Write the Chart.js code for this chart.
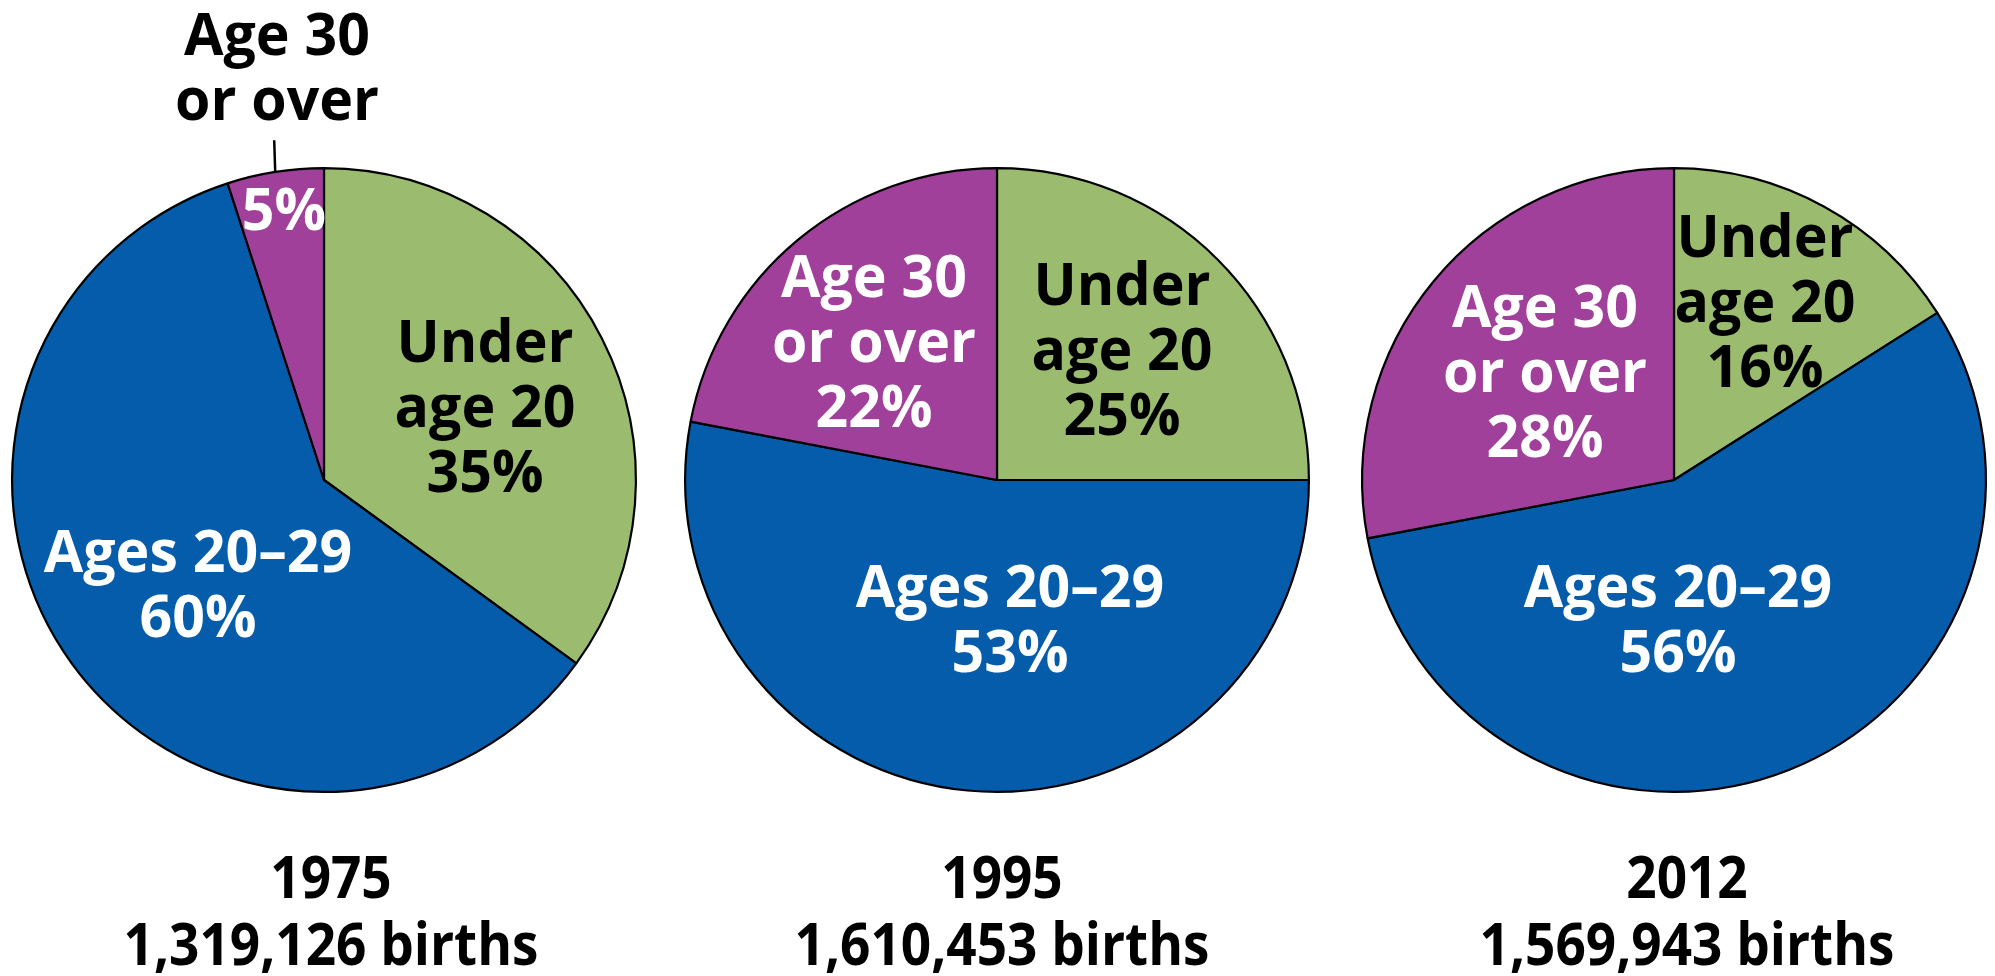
<!DOCTYPE html>
<html>
<head>
<meta charset="utf-8">
<script src="https://cdn.jsdelivr.net/npm/chart.js@4.4.0/dist/chart.umd.min.js"></script>
<style>
  html, body { margin: 0; padding: 0; background: #fff; }
  #wrap { position: relative; width: 1995px; height: 976px; }
  #wrap canvas { position: absolute; left: 0; top: 0; }
</style>
</head>
<body>
<div id="wrap">
  <canvas id="pie-0" width="1995" height="976"></canvas>
  <canvas id="pie-1" width="1995" height="976"></canvas>
  <canvas id="pie-2" width="1995" height="976"></canvas>
</div>
<script>
// Data
const categories = ['Under age 20', 'Ages 20–29', 'Age 30 or over'];
const categoryLines = [['Under', 'age 20'], ['Ages 20–29'], ['Age 30', 'or over']];
const years = ['1975', '1995', '2012'];
const births = ['1,319,126', '1,610,453', '1,569,943'];
const shares1975 = [35, 60, 5];
const shares1995 = [25, 53, 22];
const shares2012 = [16, 56, 28];

// Styles / layout
const colors = ['#9bbb6e', '#045caa', '#a0409a'];
const textColors = ['#000', '#fff', '#fff'];
const W = 1995, H = 976;
const RADIUS = 312, CENTER_Y = 480;
const centersX = [324, 997, 1674];
const LABEL_FONT = '700 59px "Open Sans"';
const LABEL_SQUEEZE = 0.97;
const CAPTION_FONT = '700 59px "Open Sans"';
const CAPTION_SQUEEZE = 0.9; // captions are set in a narrower bold face
const LINE = 65;
// label anchors relative to pie centre: [dx, baseline of first line]
const labelOffsets = [
    [[161, -118], [-126, 92], [-47, -425]],
    [[125, -175], [13, 127], [-123, -183]],
    [[91, -223], [4, 127], [-129, -153]]
];
const captionDx = [7, 5, 13];

function drawText(ctx, text, x, y, sx) {
    ctx.save();
    ctx.translate(x, y);
    ctx.scale(sx, 1);
    ctx.fillText(text, 0, 0);
    ctx.restore();
}

const pieLabels = {
    id: 'pieLabels',
    afterDatasetsDraw(chart, args, opts) {
        const ctx = chart.ctx;
        const arcs = chart.getDatasetMeta(0).data;
        const values = chart.data.datasets[0].data;
        const cx = arcs[0].x, cy = arcs[0].y;
        ctx.save();
        ctx.font = LABEL_FONT;
        ctx.textAlign = 'center';
        ctx.textBaseline = 'alphabetic';

        values.forEach((v, i) => {
            const [dx, dy] = opts.offsets[i];
            const pct = v + '%';
            if (opts.outside && opts.outside.index === i) {
                // name outside the pie, percent inside, with a leader line
                ctx.fillStyle = '#000';
                categoryLines[i].forEach((t, k) => drawText(ctx, t, cx + dx, cy + dy + k * LINE, LABEL_SQUEEZE));
                ctx.fillStyle = textColors[i];
                drawText(ctx, pct, cx + opts.outside.pct[0], cy + opts.outside.pct[1], LABEL_SQUEEZE);
                const arc = arcs[i];
                const a = (arc.startAngle + arc.endAngle) / 2;
                const r = arc.outerRadius;
                ctx.strokeStyle = '#000';
                ctx.lineWidth = 2.5;
                ctx.beginPath();
                ctx.moveTo(cx + r * Math.cos(a), cy + r * Math.sin(a));
                ctx.lineTo(cx + (r + 32) * Math.cos(a) + 4, cy + (r + 32) * Math.sin(a));
                ctx.stroke();
            } else {
                ctx.fillStyle = textColors[i];
                categoryLines[i].concat([pct]).forEach((t, k) =>
                    drawText(ctx, t, cx + dx, cy + dy + k * LINE, LABEL_SQUEEZE));
            }
        });

        ctx.font = CAPTION_FONT;
        ctx.fillStyle = '#000';
        drawText(ctx, opts.year, cx + opts.captionDx, 898, CAPTION_SQUEEZE);
        drawText(ctx, opts.births + ' births', cx + opts.captionDx, 965, CAPTION_SQUEEZE);
        ctx.restore();
    }
};

function makePie(idx, data, outside) {
    const cx = centersX[idx];
    return new Chart(document.getElementById('pie-' + idx), {
        type: 'pie',
        data: {
            labels: categories,
            datasets: [{
                data: data,
                backgroundColor: colors,
                borderColor: '#000',
                borderWidth: 2.2
            }]
        },
        options: {
            responsive: false,
            animation: false,
            events: [],
            layout: {
                padding: {
                    left: cx - RADIUS - 1,
                    right: W - cx - RADIUS - 1,
                    top: CENTER_Y - RADIUS - 1,
                    bottom: H - CENTER_Y - RADIUS - 1
                }
            },
            plugins: {
                legend: { display: false },
                tooltip: { enabled: false },
                pieLabels: {
                    offsets: labelOffsets[idx],
                    outside: outside,
                    year: years[idx],
                    births: births[idx],
                    captionDx: captionDx[idx]
                }
            }
        },
        plugins: [pieLabels]
    });
}

makePie(0, shares1975, { index: 2, pct: [-40, -250] });
makePie(1, shares1995, null);
makePie(2, shares2012, null);
</script>
</body>
</html>
